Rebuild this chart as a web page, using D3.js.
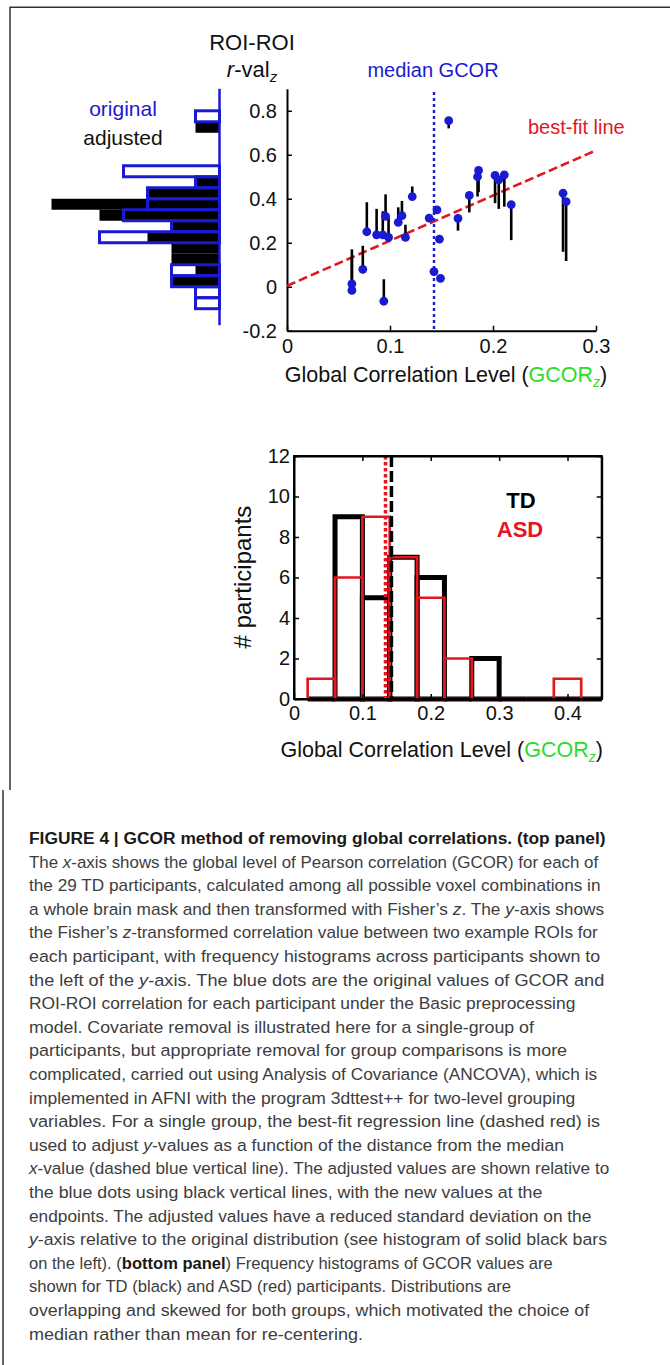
<!DOCTYPE html>
<html>
<head>
<meta charset="utf-8">
<script src="https://cdn.jsdelivr.net/npm/d3@7"></script>
<style>
body { margin: 0; background: #fff; }
svg text { font-family: "Liberation Sans", Arial, Helvetica, sans-serif; }
</style>
</head>
<body>
<div id="figure"></div>
<script>

// ---- top panel: GCOR vs ROI-ROI r-val for the 29 TD participants ----
var gcorTD  = [0.063, 0.063, 0.0736, 0.0775, 0.087, 0.093, 0.094, 0.0957, 0.0986, 0.108, 0.1116, 0.115, 0.1216, 0.138, 0.1427,
               0.1456, 0.148, 0.149, 0.157, 0.166, 0.177, 0.185, 0.186, 0.202, 0.2056, 0.211, 0.2177, 0.268, 0.271];
var roiOrig = [0.013, -0.017, 0.079, 0.25, 0.236, 0.236, -0.066, 0.32, 0.224, 0.293, 0.323, 0.224, 0.41, 0.312, 0.069,
               0.349, 0.216, 0.038, 0.755, 0.311, 0.415, 0.5, 0.529, 0.506, 0.486, 0.509, 0.373, 0.425, 0.387];
var roiAdj  = [0.17, 0.135, 0.186, 0.384, 0.354, 0.343, 0.034, 0.42, 0.315, 0.361, 0.39, 0.282, 0.456, 0.322, 0.069,
               0.343, 0.205, 0.025, 0.72, 0.255, 0.338, 0.41, 0.43, 0.38, 0.354, 0.364, 0.212, 0.159, 0.117];

var medianGCOR = 0.1427;
var bestFitX = [0, 0.3];
var bestFitY = [0.004, 0.62];

var topXTicks = [0, 0.1, 0.2, 0.3];
var topYTicks = [-0.2, 0, 0.2, 0.4, 0.6, 0.8];

// side histogram of ROI-ROI values (bins of 0.05, lower edges)
var roiBinLo     = [-0.1, -0.05, 0, 0.05, 0.1, 0.15, 0.2, 0.25, 0.3, 0.35, 0.4, 0.45, 0.5, 0.55, 0.6, 0.65, 0.7, 0.75];
var roiOrigCount = [1, 1, 2, 2, 0, 0, 5, 2, 4, 3, 3, 1, 4, 0, 0, 0, 0, 1];
var roiAdjCount  = [0, 0, 2, 1, 2, 2, 3, 2, 5, 7, 3, 1, 0, 0, 0, 0, 1, 0];

// ---- bottom panel: GCOR histograms (bins of 0.04, lower edges) ----
var gcorBinLo = [0.02, 0.06, 0.10, 0.14, 0.18, 0.22, 0.26, 0.30, 0.34, 0.38, 0.42];
var tdCount   = [0, 9, 5, 7, 6, 0, 2, 0, 0, 0, 0];
var asdCount  = [1, 6, 9, 7, 5, 2, 0, 0, 0, 1, 0];
var medianTD  = 0.1425;
var medianASD = 0.1338;

var botXTicks = [0, 0.1, 0.2, 0.3, 0.4];
var botYTicks = [0, 2, 4, 6, 8, 10, 12];

// caption, line by line as printed
var captionLines = [
    [["FIGURE 4 | GCOR method of removing global correlations. (top panel)", "b"]],
    [["The ", ""], ["x", "i"], ["-axis shows the global level of Pearson correlation (GCOR) for each of", ""]],
    [["the 29 TD participants, calculated among all possible voxel combinations in", ""]],
    [["a whole brain mask and then transformed with Fisher\u2019s ", ""], ["z", "i"], [". The ", ""], ["y", "i"], ["-axis shows", ""]],
    [["the Fisher\u2019s ", ""], ["z", "i"], ["-transformed correlation value between two example ROIs for", ""]],
    [["each participant, with frequency histograms across participants shown to", ""]],
    [["the left of the ", ""], ["y", "i"], ["-axis. The blue dots are the original values of GCOR and", ""]],
    [["ROI-ROI correlation for each participant under the Basic preprocessing", ""]],
    [["model. Covariate removal is illustrated here for a single-group of", ""]],
    [["participants, but appropriate removal for group comparisons is more", ""]],
    [["complicated, carried out using Analysis of Covariance (ANCOVA), which is", ""]],
    [["implemented in AFNI with the program 3dttest++ for two-level grouping", ""]],
    [["variables. For a single group, the best-fit regression line (dashed red) is", ""]],
    [["used to adjust ", ""], ["y", "i"], ["-values as a function of the distance from the median", ""]],
    [["x", "i"], ["-value (dashed blue vertical line). The adjusted values are shown relative to", ""]],
    [["the blue dots using black vertical lines, with the new values at the", ""]],
    [["endpoints. The adjusted values have a reduced standard deviation on the", ""]],
    [["y", "i"], ["-axis relative to the original distribution (see histogram of solid black bars", ""]],
    [["on the left). (", ""], ["bottom panel", "b"], [") Frequency histograms of GCOR values are", ""]],
    [["shown for TD (black) and ASD (red) participants. Distributions are", ""]],
    [["overlapping and skewed for both groups, which motivated the choice of", ""]],
    [["median rather than mean for re-centering.", ""]]
];
// printed width (px) of each caption line
var captionWidths = [577, 569, 572, 575, 569, 571, 575, 546, 505, 538, 568, 546, 571, 535, 580, 513, 562,
                     578, 524, 482, 560, 334];

var BLUE = "#1a1ad2", RED = "#e4161f", GREEN = "#2bdc2b";

var svg = d3.select("#figure").append("svg")
    .attr("width", 670)
    .attr("height", 1365);

// frame round the figure
svg.append("path")
    .attr("d", "M670,7.3H10V790")
    .attr("fill", "none").attr("stroke", "#333").attr("stroke-width", 1.5);
svg.append("path")
    .attr("d", "M3,790V1365")
    .attr("fill", "none").attr("stroke", "#333").attr("stroke-width", 1.5);

function fmt(d) { return String(+d.toFixed(2)); }

/* ================= top panel ================= */
var xTop = d3.scaleLinear().domain([0, 0.3]).range([287, 596]);
var yTop = d3.scaleLinear().domain([-0.2, 0.9]).range([330.7, 88.8]);

var topG = svg.append("g");

var xAxisTop = d3.axisBottom(xTop).tickValues(topXTicks).tickFormat(fmt)
    .tickSizeInner(-5).tickSizeOuter(0).tickPadding(8);
var yAxisTop = d3.axisLeft(yTop).tickValues(topYTicks).tickFormat(fmt)
    .tickSizeInner(-5).tickSizeOuter(0).tickPadding(10);

topG.append("g")
    .attr("class", "axis")
    .attr("transform", "translate(0," + yTop(-0.2) + ")")
    .call(xAxisTop);
topG.append("g")
    .attr("class", "axis")
    .attr("transform", "translate(" + xTop(0) + ",0)")
    .call(yAxisTop);

// best-fit line
topG.append("line")
    .attr("x1", xTop(bestFitX[0])).attr("y1", yTop(bestFitY[0]))
    .attr("x2", xTop(bestFitX[1])).attr("y2", yTop(bestFitY[1]))
    .attr("stroke", RED).attr("stroke-width", 2.6).attr("stroke-dasharray", "9,4");

// median GCOR
topG.append("line")
    .attr("x1", xTop(medianGCOR)).attr("x2", xTop(medianGCOR))
    .attr("y1", yTop(0.885)).attr("y2", yTop(-0.2))
    .attr("stroke", BLUE).attr("stroke-width", 2.4).attr("stroke-dasharray", "3,3");

// adjustment lines then dots
topG.selectAll(".adj")
    .data(gcorTD)
    .enter().append("line")
    .attr("class", "adj")
    .attr("x1", function(d) { return xTop(d); })
    .attr("x2", function(d) { return xTop(d); })
    .attr("y1", function(d, i) { return yTop(roiOrig[i]); })
    .attr("y2", function(d, i) { return yTop(roiAdj[i]); })
    .attr("stroke", "#000").attr("stroke-width", 2.6);

topG.selectAll(".dot")
    .data(gcorTD)
    .enter().append("circle")
    .attr("class", "dot")
    .attr("cx", function(d) { return xTop(d); })
    .attr("cy", function(d, i) { return yTop(roiOrig[i]); })
    .attr("r", 4.4)
    .attr("fill", BLUE);

topG.append("text")
    .attr("x", 433).attr("y", 76.5).attr("text-anchor", "middle")
    .attr("font-size", 20).attr("fill", BLUE)
    .text("median GCOR");
topG.append("text")
    .attr("x", 528).attr("y", 134)
    .attr("font-size", 20).attr("fill", RED)
    .text("best-fit line");

topG.append("text")
    .attr("x", 252).attr("y", 50).attr("text-anchor", "middle")
    .attr("font-size", 22).attr("fill", "#111")
    .text("ROI-ROI");
var rv = topG.append("text")
    .attr("x", 252).attr("y", 77).attr("text-anchor", "middle")
    .attr("font-size", 22).attr("fill", "#111");
rv.append("tspan").attr("font-style", "italic").text("r");
rv.append("tspan").text("-val");
rv.append("tspan").attr("font-style", "italic").attr("font-size", 15).attr("dy", 5).text("z");

function gcorLabel(g, x, y) {
    var t = g.append("text")
        .attr("x", x).attr("y", y).attr("text-anchor", "middle")
        .attr("font-size", 21.5).attr("fill", "#111");
    t.append("tspan").text("Global Correlation Level (");
    t.append("tspan").attr("fill", GREEN).text("GCOR");
    t.append("tspan").attr("fill", GREEN).attr("font-style", "italic")
        .attr("font-size", 14).attr("dy", 5).text("z");
    t.append("tspan").attr("dy", -5).text(")");
}
gcorLabel(topG, 446, 381.7);

/* ---- side histogram ---- */
var xCount = d3.scaleLinear().domain([0, 7]).range([219.5, 51.5]);
var side = svg.append("g");

side.selectAll(".adjbar")
    .data(roiBinLo)
    .enter().append("rect")
    .filter(function(d, i) { return roiAdjCount[i] > 0; })
    .attr("class", "adjbar")
    .attr("x", function(d) { return xCount(roiAdjCount[roiBinLo.indexOf(d)]); })
    .attr("width", function(d) { return xCount(0) - xCount(roiAdjCount[roiBinLo.indexOf(d)]); })
    .attr("y", function(d) { return yTop(d + 0.05); })
    .attr("height", function(d) { return yTop(d) - yTop(d + 0.05); })
    .attr("fill", "#000");

side.selectAll(".origbar")
    .data(roiBinLo)
    .enter().append("rect")
    .filter(function(d, i) { return roiOrigCount[i] > 0; })
    .attr("class", "origbar")
    .attr("x", function(d) { return xCount(roiOrigCount[roiBinLo.indexOf(d)]); })
    .attr("width", function(d) { return xCount(0) - xCount(roiOrigCount[roiBinLo.indexOf(d)]); })
    .attr("y", function(d) { return yTop(d + 0.05); })
    .attr("height", function(d) { return yTop(d) - yTop(d + 0.05); })
    .attr("fill", "none").attr("stroke", BLUE).attr("stroke-width", 3);

side.append("line")
    .attr("x1", xCount(0)).attr("x2", xCount(0))
    .attr("y1", yTop(0.9)).attr("y2", yTop(-0.175))
    .attr("stroke", BLUE).attr("stroke-width", 2.5);

side.append("text")
    .attr("x", 123).attr("y", 116).attr("text-anchor", "middle")
    .attr("font-size", 21).attr("fill", BLUE).text("original");
side.append("text")
    .attr("x", 123).attr("y", 145).attr("text-anchor", "middle")
    .attr("font-size", 21).attr("fill", "#111").text("adjusted");

/* ================= bottom panel ================= */
var xBot = d3.scaleLinear().domain([0, 0.45]).range([294, 601.7]);
var yBot = d3.scaleLinear().domain([0, 12]).range([699, 456]);

var bot = svg.append("g");

svg.append("clipPath").attr("id", "botclip")
    .append("rect")
    .attr("x", xBot(0)).attr("width", xBot(0.45) - xBot(0))
    .attr("y", yBot(12) - 10).attr("height", yBot(0) - yBot(12) + 20);

function barPath(d, c) {
    var x0 = xBot(d), x1 = xBot(d + 0.04), y0 = yBot(0), y1 = yBot(c);
    return "M" + x0 + "," + y0 + "V" + y1 + "H" + x1 + "V" + y0 + "Z";
}

var bars = bot.append("g").attr("clip-path", "url(#botclip)");
bars.selectAll(".td")
    .data(gcorBinLo)
    .enter().append("path")
    .attr("class", "td")
    .attr("d", function(d, i) { return barPath(d, tdCount[i]); })
    .attr("fill", "none").attr("stroke", "#000").attr("stroke-width", 5)
    .attr("stroke-linejoin", "miter");
bars.selectAll(".asd")
    .data(gcorBinLo)
    .enter().append("path")
    .attr("class", "asd")
    .attr("d", function(d, i) { return barPath(d, asdCount[i]); })
    .attr("fill", "none").attr("stroke", RED).attr("stroke-width", 2.7);

bot.append("line")
    .attr("x1", xBot(medianTD)).attr("x2", xBot(medianTD))
    .attr("y1", yBot(12)).attr("y2", yBot(0))
    .attr("stroke", "#000").attr("stroke-width", 3.5).attr("stroke-dasharray", "11,4");
bot.append("line")
    .attr("x1", xBot(medianASD)).attr("x2", xBot(medianASD))
    .attr("y1", yBot(12)).attr("y2", yBot(0))
    .attr("stroke", RED).attr("stroke-width", 3.5).attr("stroke-dasharray", "3.5,2.5");

// box with inward ticks on all sides
bot.append("rect")
    .attr("x", xBot(0)).attr("y", yBot(12))
    .attr("width", xBot(0.45) - xBot(0)).attr("height", yBot(0) - yBot(12))
    .attr("fill", "none").attr("stroke", "#000").attr("stroke-width", 2);

bot.append("g")
    .attr("transform", "translate(0," + yBot(0) + ")")
    .call(d3.axisBottom(xBot).tickValues(botXTicks).tickFormat(fmt)
        .tickSizeInner(-5).tickSizeOuter(0).tickPadding(7));
bot.append("g")
    .attr("transform", "translate(" + xBot(0) + ",0)")
    .call(d3.axisLeft(yBot).tickValues(botYTicks).tickFormat(fmt)
        .tickSizeInner(-5).tickSizeOuter(0).tickPadding(4));
bot.append("g")
    .attr("transform", "translate(" + xBot(0.45) + ",0)")
    .call(d3.axisRight(yBot).tickValues(botYTicks).tickFormat("")
        .tickSizeInner(-5).tickSizeOuter(0));
bot.append("g")
    .attr("transform", "translate(0," + yBot(12) + ")")
    .call(d3.axisTop(xBot).tickValues(botXTicks).tickFormat("")
        .tickSizeInner(-5).tickSizeOuter(0));

bot.append("text")
    .attr("x", 521).attr("y", 508).attr("text-anchor", "middle")
    .attr("font-size", 22).attr("font-weight", "bold").attr("fill", "#000")
    .text("TD");
bot.append("text")
    .attr("x", 520).attr("y", 537.3).attr("text-anchor", "middle")
    .attr("font-size", 22).attr("font-weight", "bold").attr("fill", RED)
    .text("ASD");

bot.append("text")
    .attr("transform", "translate(251,577) rotate(-90)")
    .attr("text-anchor", "middle")
    .attr("font-size", 24).attr("fill", "#111")
    .text("# participants");

gcorLabel(bot, 441.7, 756.7);

// axis styling shared by both panels
svg.selectAll(".tick text")
    .attr("font-size", 20)
    .attr("fill", "#111")
    .attr("font-family", "\"Liberation Sans\", Arial, sans-serif");
svg.selectAll(".domain").attr("stroke", "#000").attr("stroke-width", 2);
svg.selectAll(".tick line").attr("stroke", "#000").attr("stroke-width", 1.5);

/* ================= caption ================= */
// each line is drawn at natural width, then squeezed/stretched to its printed width
var cap = svg.append("g");
captionLines.forEach(function(line, i) {
    var t = cap.append("text")
        .attr("x", 0)
        .attr("y", 0)
        .attr("font-size", 17.2)
        .attr("fill", "#3d3d3d");
    line.forEach(function(seg) {
        var s = t.append("tspan").text(seg[0]);
        if (seg[1] == "b") s.attr("font-weight", "bold").attr("fill", "#1a1a1a");
        if (seg[1] == "i") s.attr("font-style", "italic");
    });
    var natural = t.node().getComputedTextLength();
    var sx = captionWidths[i] / natural;
    t.attr("transform", "translate(29," + (844 + i * 23.6) + ") scale(" + sx.toFixed(4) + ",1)");
});

</script>
</body>
</html>
